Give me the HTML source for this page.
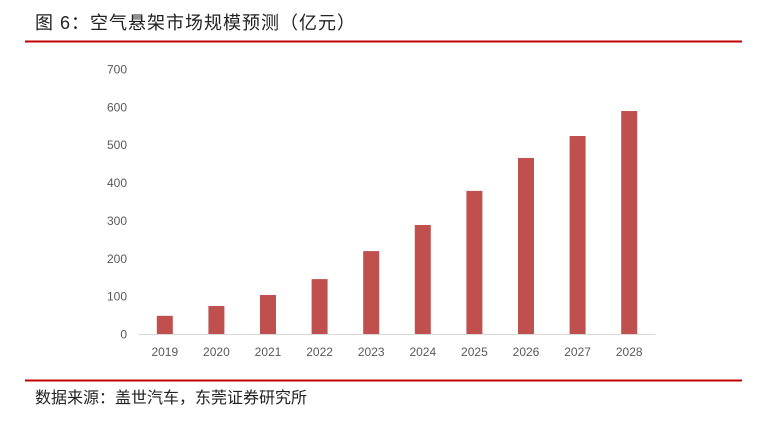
<!DOCTYPE html>
<html><head><meta charset="utf-8"><style>
body{margin:0;width:767px;height:416px;background:#fff;overflow:hidden;font-family:"Liberation Sans","Noto Sans CJK SC",sans-serif}
</style></head><body>
<svg width="767" height="416" font-family="Liberation Sans, Noto Sans CJK SC, sans-serif">
<text x="35" y="29" font-size="18" letter-spacing="1" fill="#222">图 6：空气悬架市场规模预测（亿元）</text>
<line x1="25" y1="41.5" x2="742" y2="41.5" stroke="#C00000" stroke-width="2"/>
<g id="plot"></g>
<line x1="25" y1="380.5" x2="742" y2="380.5" stroke="#C00000" stroke-width="2"/>
<text x="35" y="403" font-size="16" fill="#222">数据来源：盖世汽车，东莞证券研究所</text>
</svg>
<script>
const categories=["2019","2020","2021","2022","2023","2024","2025","2026","2027","2028"];
const values=[48,74,103,145,219,288,378,465,523,589];
const yTicks=[0,100,200,300,400,500,600,700];
const NS="http://www.w3.org/2000/svg";
const g=document.getElementById('plot');
const y0=334,y1=69,yMax=700,xStart=139,xEnd=655;
const step=(xEnd-xStart)/categories.length;
const yS=v=>y0-(y0-y1)*v/yMax;
const xS=i=>xStart+step*(i+0.5);
function mk(t,a){const e=document.createElementNS(NS,t);for(const k in a)e.setAttribute(k,a[k]);g.appendChild(e);return e;}
yTicks.forEach(t=>{const e=mk('text',{x:127,y:yS(t)+4.5,'font-size':12,fill:'#595959','text-anchor':'end'});e.textContent=t;

});
const ax=mk('line',{x1:xStart,y1:y0+0.5,x2:xEnd,y2:y0+0.5,stroke:'#d9d9d9','stroke-width':1});


categories.forEach((c,i)=>{
const r=mk('rect',{x:xS(i)-8,y:yS(values[i]),width:16,height:y0-yS(values[i]),fill:'#C0504D'});


const t=mk('text',{x:xS(i),y:356,'font-size':12,fill:'#595959','text-anchor':'middle'});t.textContent=c;


});
</script>
</body></html>
